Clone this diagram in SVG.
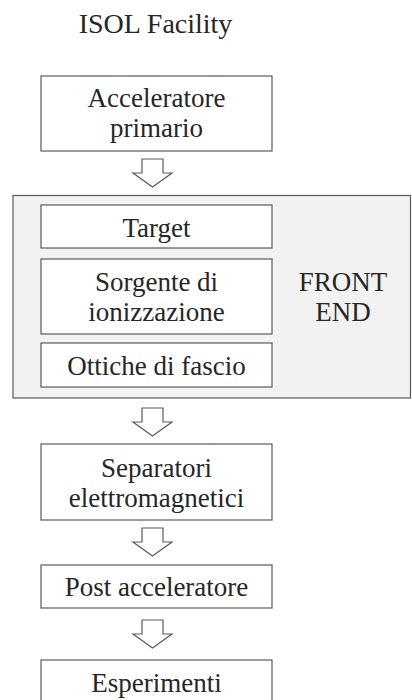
<svg xmlns="http://www.w3.org/2000/svg" width="412" height="700" viewBox="0 0 412 700">
<style>
text{font-family:"Liberation Serif","DejaVu Serif",serif;font-size:27px;fill:#262626;text-anchor:middle}
.box{fill:#fff;stroke:#5a5a5a;stroke-width:1.2}
.fe{fill:#f2f2f2;stroke:#5a5a5a;stroke-width:1.2}
.arr{fill:#fff;stroke:#5a5a5a;stroke-width:1.2;stroke-linejoin:miter}
</style>
<defs>
<path id="bigarrow" d="M-10.5,0 H10.5 V14 H19.5 L0,28 L-19.5,14 H-10.5 Z"/>
</defs>
<rect width="412" height="700" fill="#fff"/>
<text id="title" x="155.5" y="33" style="font-size:28px">ISOL Facility</text>
<g id="frontend">
<rect class="fe" x="13" y="195.5" width="397.5" height="202.5"/>
<text x="343" y="291">FRONT</text>
<text x="343" y="321">END</text>
</g>
<g id="acceleratore">
<rect class="box" x="41" y="76" width="231" height="75"/>
<text x="156.5" y="107">Acceleratore</text>
<text x="156.5" y="137">primario</text>
</g>
<g id="target">
<rect class="box" x="41" y="205" width="231" height="43"/>
<text x="156.5" y="237">Target</text>
</g>
<g id="sorgente">
<rect class="box" x="41" y="259" width="231" height="75"/>
<text x="156.5" y="291">Sorgente di</text>
<text x="156.5" y="321">ionizzazione</text>
</g>
<g id="ottiche">
<rect class="box" x="41" y="343" width="231" height="44"/>
<text x="156.5" y="375">Ottiche di fascio</text>
</g>
<g id="separatori">
<rect class="box" x="41" y="444" width="231" height="76"/>
<text x="156.5" y="477">Separatori</text>
<text x="156.5" y="507">elettromagnetici</text>
</g>
<g id="post">
<rect class="box" x="41" y="565" width="231" height="43"/>
<text x="156.5" y="596">Post acceleratore</text>
</g>
<g id="esperimenti">
<rect class="box" x="41" y="660" width="231" height="60"/>
<text x="156.5" y="692">Esperimenti</text>
</g>
<g id="connectors">
<use href="#bigarrow" class="arr" transform="translate(152.5,159)"/>
<use href="#bigarrow" class="arr" transform="translate(152.5,408)"/>
<use href="#bigarrow" class="arr" transform="translate(152.5,528)"/>
<use href="#bigarrow" class="arr" transform="translate(152.5,620)"/>
</g>
</svg>
